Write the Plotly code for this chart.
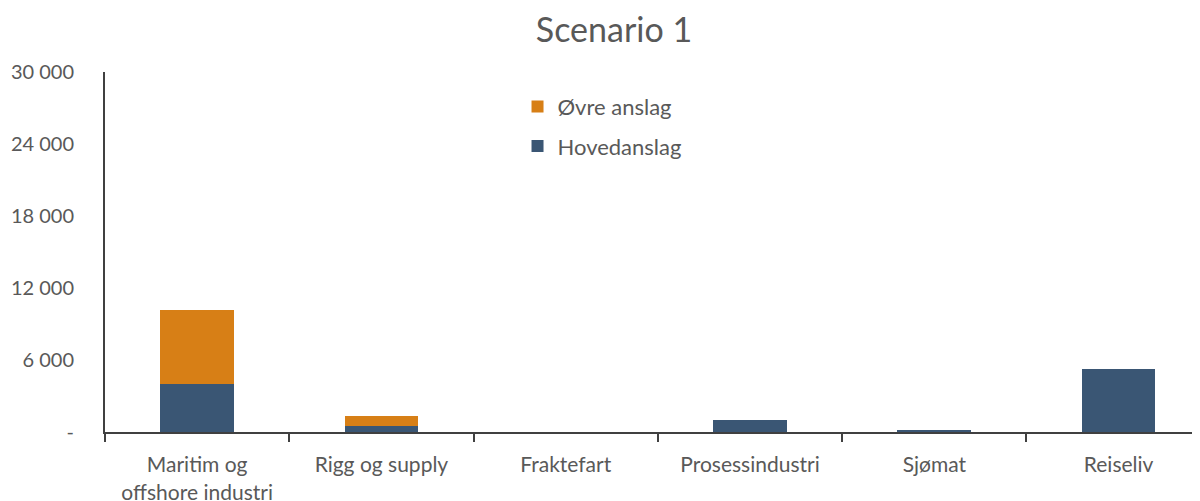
import plotly.graph_objects as go

categories = ["Maritim og<br>offshore industri", "Rigg og supply", "Fraktefart",
              "Prosessindustri", "Sjømat", "Reiseliv"]
hovedanslag = [4000, 530, 0, 1040, 150, 5230]
ovre_anslag = [6150, 820, 0, 0, 0, 0]

y_ticks = [0, 6000, 12000, 18000, 24000, 30000]
y_ticktext = ["-", "6 000", "12 000", "18 000", "24 000", "30 000"]

text_color = "#595959"
font_family = "Lato, Carlito, Calibri, sans-serif"

fig = go.Figure()
fig.add_trace(go.Bar(x=categories, y=hovedanslag, name="Hovedanslag",
                     marker=dict(color="#3A5674", line=dict(width=0)),
                     legendgroup="h", legendrank=2))
fig.add_trace(go.Bar(x=categories, y=ovre_anslag, name="Øvre anslag",
                     marker=dict(color="#D77F16", line=dict(width=0)),
                     legendgroup="o", legendrank=1))

# page body has an 8px margin, so offsets below compensate for it
fig.update_layout(
    barmode="stack",
    bargap=0.6,
    width=1200, height=501,
    margin=dict(l=97, r=0, t=64, b=77, autoexpand=False),
    paper_bgcolor="white", plot_bgcolor="white",
    font=dict(family=font_family, size=20, color=text_color),
    title=dict(text="Scenario 1", x=0.505, xanchor="center", y=0.956, yanchor="middle",
               font=dict(size=34, color=text_color)),
    showlegend=True,
    legend=dict(x=0.374, y=0.962, xanchor="left", yanchor="top",
                traceorder="grouped", tracegroupgap=8,
                font=dict(size=22, color=text_color), bgcolor="rgba(0,0,0,0)",
                itemwidth=30),
)
fig.update_xaxes(
    range=[-0.5, 5.485], automargin=False,
    showline=True, linecolor="#404040", linewidth=2,
    ticks="outside", tickson="boundaries", ticklen=8, tickcolor="#404040", tickwidth=2,
    ticklabelstandoff=13,
    showgrid=False, zeroline=False,
    tickfont=dict(size=21, color=text_color),
)
fig.update_yaxes(
    range=[0, 30000], automargin=False,
    tickvals=y_ticks, ticktext=y_ticktext,
    showline=True, linecolor="#404040", linewidth=2,
    ticks="", showgrid=False, zeroline=False,
    ticklabelstandoff=25,
    tickfont=dict(size=20, color=text_color),
)

fig.write_html("out.html")
